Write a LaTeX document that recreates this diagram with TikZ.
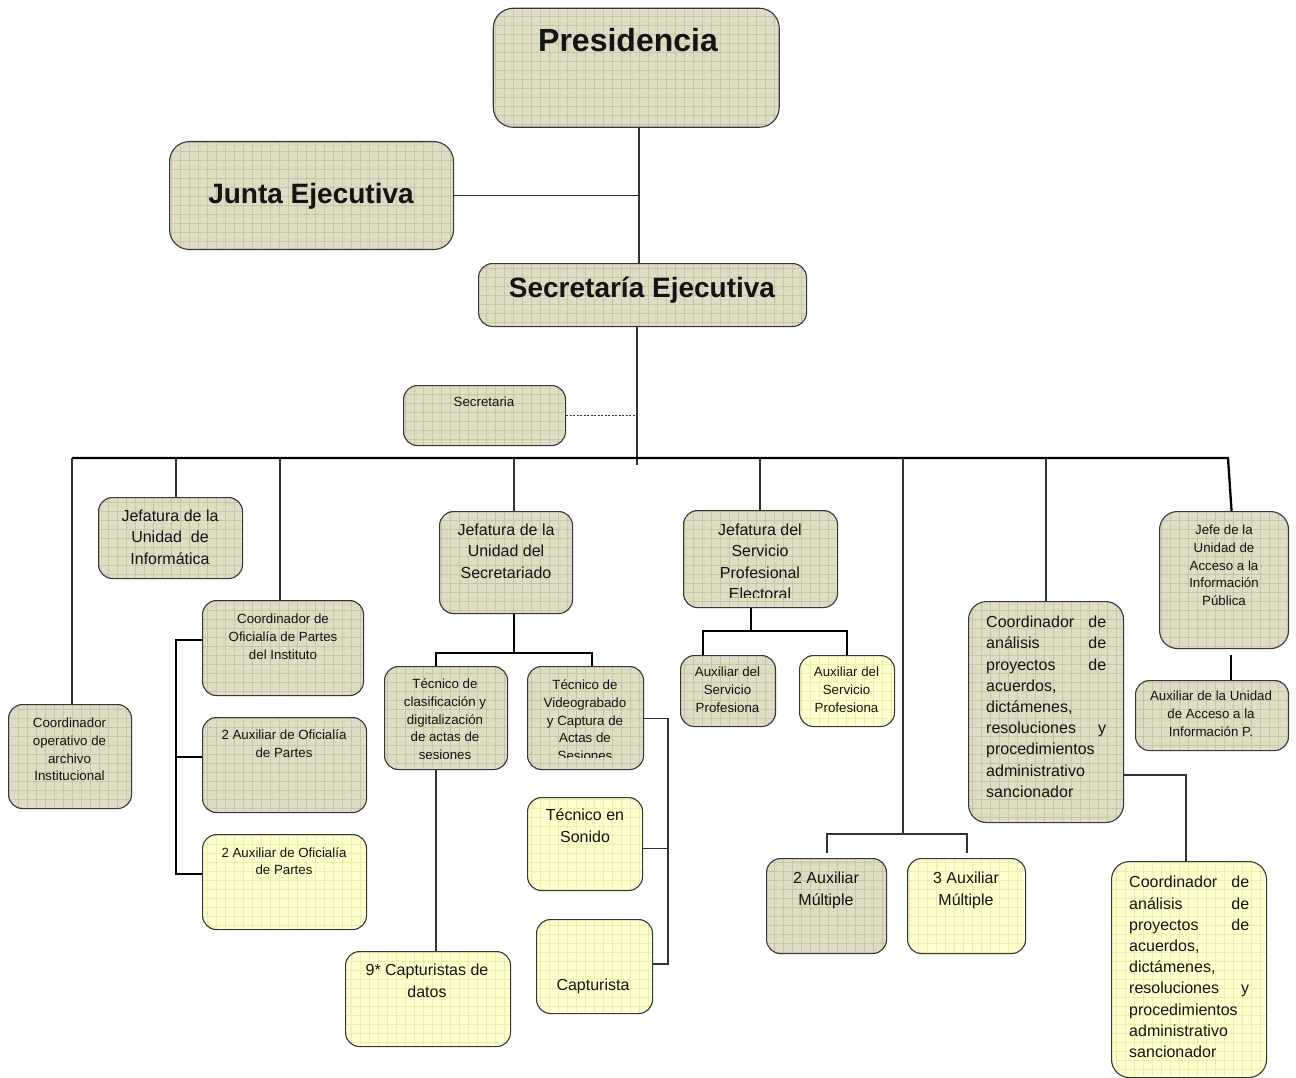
\documentclass[tikz,border=0pt]{standalone}
\usepackage{fontspec}
\setmainfont{Liberation Sans}
\usetikzlibrary{patterns.meta,calc}
\definecolor{tanbg}{RGB}{222,220,196}
\definecolor{tangrid}{RGB}{200,198,158}
\definecolor{yelbg}{RGB}{255,255,206}
\definecolor{yelgrid}{RGB}{236,236,172}
\definecolor{edge}{RGB}{55,55,55}
\tikzset{
 orgbox/.style={draw=edge, line width=1.1pt, rounded corners=14pt, inner sep=0pt, anchor=north west},
 tanbox/.style={orgbox, preaction={fill=tanbg}, pattern={Hatch[angle=0,distance=9pt,line width=0.5pt]}, pattern color=tangrid},
 yelbox/.style={orgbox, preaction={fill=yelbg}, pattern={Hatch[angle=0,distance=9pt,line width=0.5pt]}, pattern color=yelgrid},
 lbl/.style={inner sep=0pt, align=center, text=black!92},
 sm/.style={lbl, anchor=north, font=\fontsize{13.3}{17.6}\selectfont},
 md/.style={lbl, anchor=north, font=\fontsize{16}{21.2}\selectfont},
 big/.style={lbl, anchor=base, font=\fontsize{28}{32}\selectfont\bfseries},
 thinline/.style={draw=black!80, line width=1.1pt},
 thickline/.style={draw=black, line width=2.3pt},
 dotline/.style={draw=black!80, line width=0.9pt, dash pattern=on 2pt off 1.5pt},
}
\newcommand{\jl}[1]{\makebox[120pt][l]{#1}}
\begin{document}
\begin{tikzpicture}[x=1pt,y=-1pt]
\useasboundingbox (0,0) rectangle (1296,1078);
\fill[white] (0,0) rectangle (1296,1078);

% ---------- boxes ----------
\node[tanbox, rounded corners=20pt, minimum width=286pt, minimum height=119pt] (pres) at (493,8) {};
\node[tanbox, rounded corners=20pt, minimum width=284pt, minimum height=108pt] (junta) at (169,141) {};
\node[tanbox, minimum width=328pt, minimum height=63pt] (secej) at (478,263) {};
\node[tanbox, minimum width=162pt, minimum height=60pt] (secr) at (403,385) {};
\node[tanbox, minimum width=123pt, minimum height=104pt] (coordop) at (8,704) {};
\node[tanbox, minimum width=144pt, minimum height=81pt] (inform) at (98,497) {};
\node[tanbox, minimum width=161pt, minimum height=95pt] (coordofi) at (202,600) {};
\node[tanbox, minimum width=164pt, minimum height=95pt] (auxof1) at (202,717) {};
\node[yelbox, minimum width=164pt, minimum height=95pt] (auxof2) at (202,834) {};
\node[tanbox, minimum width=133pt, minimum height=102pt] (jsec) at (439,511) {};
\node[tanbox, minimum width=123pt, minimum height=103pt] (tclas) at (384,666) {};
\node[tanbox, minimum width=116pt, minimum height=103pt] (tvid) at (527,666) {};
\node[yelbox, minimum width=115pt, minimum height=93pt] (sonido) at (527,797) {};
\node[yelbox, minimum width=116pt, minimum height=94pt] (cap) at (536,919) {};
\node[yelbox, minimum width=165pt, minimum height=95pt] (cap9) at (345,951) {};
\node[tanbox, minimum width=154pt, minimum height=97pt] (jspe) at (683,510) {};
\node[tanbox, minimum width=95pt, minimum height=71pt] (auxsp1) at (680,655) {};
\node[yelbox, minimum width=95pt, minimum height=71pt] (auxsp2) at (799,655) {};
\node[tanbox, minimum width=120pt, minimum height=95pt] (mult2) at (766,858) {};
\node[yelbox, minimum width=118pt, minimum height=95pt] (mult3) at (907,858) {};
\node[tanbox, rounded corners=18pt, minimum width=155pt, minimum height=221pt] (coana) at (968,601) {};
\node[yelbox, rounded corners=18pt, minimum width=155pt, minimum height=216pt] (coanay) at (1111,861) {};
\node[tanbox, rounded corners=18pt, minimum width=129pt, minimum height=137pt] (jefeuaip) at (1159,511) {};
\node[tanbox, minimum width=153pt, minimum height=70pt] (auxuaip) at (1135,680) {};

% ---------- texts ----------
\node[big, font=\fontsize{32}{36}\selectfont\bfseries] (t-pres) at (628,52) {Presidencia};
\node[big] (t-junta) at (311,204) {Junta Ejecutiva};
\node[big] (t-secej) at (642,298) {Secretaría Ejecutiva};
\node[sm, anchor=center] (t-secr) at (484,402) {Secretaria};
\node[sm] (t-coordop) at (69.5,718) {Coordinador\\operativo de\\archivo\\Institucional};
\node[md] (t-inform) at (170,510) {Jefatura de la\\Unidad\hspace{4.5pt} de\\Informática};
\node[sm] (t-coordofi) at (283,614) {Coordinador de\\Oficialía de Partes\\del Instituto};
\node[sm] (t-auxof1) at (284,730) {2 Auxiliar de Oficialía\\de Partes};
\node[sm] (t-auxof2) at (284,847) {2 Auxiliar de Oficialía\\de Partes};
\node[md] (t-jsec) at (506,524) {Jefatura de la\\Unidad del\\Secretariado};
\node[sm] (t-tclas) at (445,679) {Técnico de\\clasificación y\\digitalización\\de actas de\\sesiones};
\begin{scope}
\clip (tvid.north west) rectangle ([yshift=12.5pt]tvid.south east);
\node[sm] (t-tvid) at (585,680) {Técnico de\\Videograbado\\y Captura de\\Actas de\\Sesiones};
\end{scope}
\node[md] (t-sonido) at (585,809) {Técnico en\\Sonido};
\node[md] (t-cap) at (593,979) {Capturista};
\node[md] (t-cap9) at (427,964) {9* Capturistas de\\datos};
\begin{scope}
\clip (jspe.north west) rectangle ([yshift=11pt]jspe.south east);
\node[md] (t-jspe) at (760,524) {Jefatura del\\Servicio\\Profesional\\Electoral};
\end{scope}
\node[sm] (t-auxsp1) at (727.5,667) {Auxiliar del\\Servicio\\Profesiona};
\node[sm] (t-auxsp2) at (846.5,667) {Auxiliar del\\Servicio\\Profesiona};
\node[md] (t-mult2) at (826,872) {2 Auxiliar\\Múltiple};
\node[md] (t-mult3) at (966,872) {3 Auxiliar\\Múltiple};
\node[md, anchor=north west, align=left] (t-coana) at (986,616) {\jl{Coordinador\hfill de}\\\jl{análisis\hfill de}\\\jl{proyectos\hfill de}\\\jl{acuerdos,}\\\jl{dictámenes,}\\\jl{resoluciones\hfill y}\\\jl{procedimientos}\\\jl{administrativo}\\\jl{sancionador}};
\node[md, anchor=north west, align=left] (t-coanay) at (1129,876) {\jl{Coordinador\hfill de}\\\jl{análisis\hfill de}\\\jl{proyectos\hfill de}\\\jl{acuerdos,}\\\jl{dictámenes,}\\\jl{resoluciones\hfill y}\\\jl{procedimientos}\\\jl{administrativo}\\\jl{sancionador}};
\node[sm] (t-jefeuaip) at (1224,525) {Jefe de la\\Unidad de\\Acceso a la\\Información\\Pública};
\node[sm] (t-auxuaip) at (1211,691) {Auxiliar de la Unidad\\de Acceso a la\\Información P.};

% ---------- connectors ----------
\coordinate (px) at (639,0);
\draw[thinline] (pres.south -| px) -- (secej.north -| px);
\draw[thinline] (junta.east) -- (junta.east -| px);
\coordinate (hub) at (637,465);
\draw[thinline] (secej.south -| hub) -- (hub);
\draw[dotline] (secr.east) -- (secr.east -| hub);

\coordinate (busL) at (72,458);
\coordinate (busR) at (1228,458);
\draw[thickline] (busL) -- (busR) -- ([xshift=7.5pt]jefeuaip.north);

\coordinate (d1) at (72,458);
\coordinate (d2) at (176,458);
\coordinate (d3) at (280,458);
\coordinate (d4) at (514,458);
\coordinate (d5) at (760,458);
\coordinate (d6) at (903,458);
\coordinate (d7) at (1046,458);
\draw[thinline] (d1) -- (d1 |- coordop.north);
\draw[thinline] (d2) -- (d2 |- inform.north);
\draw[thinline] (d3) -- (d3 |- coordofi.north);
\draw[thinline] (d4) -- (d4 |- jsec.north);
\draw[thinline] (d5) -- (d5 |- jspe.north);
\draw[thinline] (d7) -- (d7 |- coana.north);

% Oficialia bracket
\coordinate (bk) at (176,0);
\coordinate (o1) at ($(coordofi.west)+(0,-8)$);
\coordinate (o2) at ($(auxof1.west)+(0,-8)$);
\coordinate (o3) at ($(auxof2.west)+(0,-8)$);
\draw[thickline] (o1) -- (o1 -| bk) -- (o3 -| bk) -- (o3);
\draw[thickline] (o2 -| bk) -- (o2);

% Secretariado subtree
\coordinate (sb) at (514,653);
\coordinate (sl) at (436,653);
\coordinate (sr) at (592,653);
\draw[thickline] (sb |- jsec.south) -- (sb);
\draw[thickline] (sl |- tclas.north) -- (sl) -- (sr) -- (sr |- tvid.north);
\draw[thinline] (sl |- tclas.south) -- (sl |- cap9.north);

% Videograbado group
\coordinate (vb) at (668,964);
\draw[thinline] (tvid.east) -- (tvid.east -| vb) -- (vb) -- (vb -| cap.east);
\draw[thinline] ($(sonido.east)+(0,4)$) -- ($(sonido.east -| vb)+(0,4)$);

% SPE subtree
\coordinate (spb) at (751,631);
\coordinate (spl) at (703,631);
\coordinate (spr) at (847,631);
\draw[thickline] (spb |- jspe.south) -- (spb);
\draw[thickline] (spl |- auxsp1.north) -- (spl) -- (spr) -- (spr |- auxsp2.north);

% Auxiliar Multiple
\coordinate (mb) at (903,834);
\coordinate (ml) at (827,834);
\coordinate (mr) at (967,834);
\coordinate (ml2) at (827,853);
\coordinate (mr2) at (967,853);
\draw[thinline] (d6) -- (mb);
\draw[thinline] (ml2) -- (ml) -- (mr) -- (mr2);

% Analisis
\coordinate (an) at (1186,775);
\draw[thinline] (coana.east |- an) -- (an) -- (an |- coanay.north);

% UAIP
\coordinate (u1) at (1231,655);
\draw[thickline] (u1) -- (u1 |- auxuaip.north);
\end{tikzpicture}
\end{document}
